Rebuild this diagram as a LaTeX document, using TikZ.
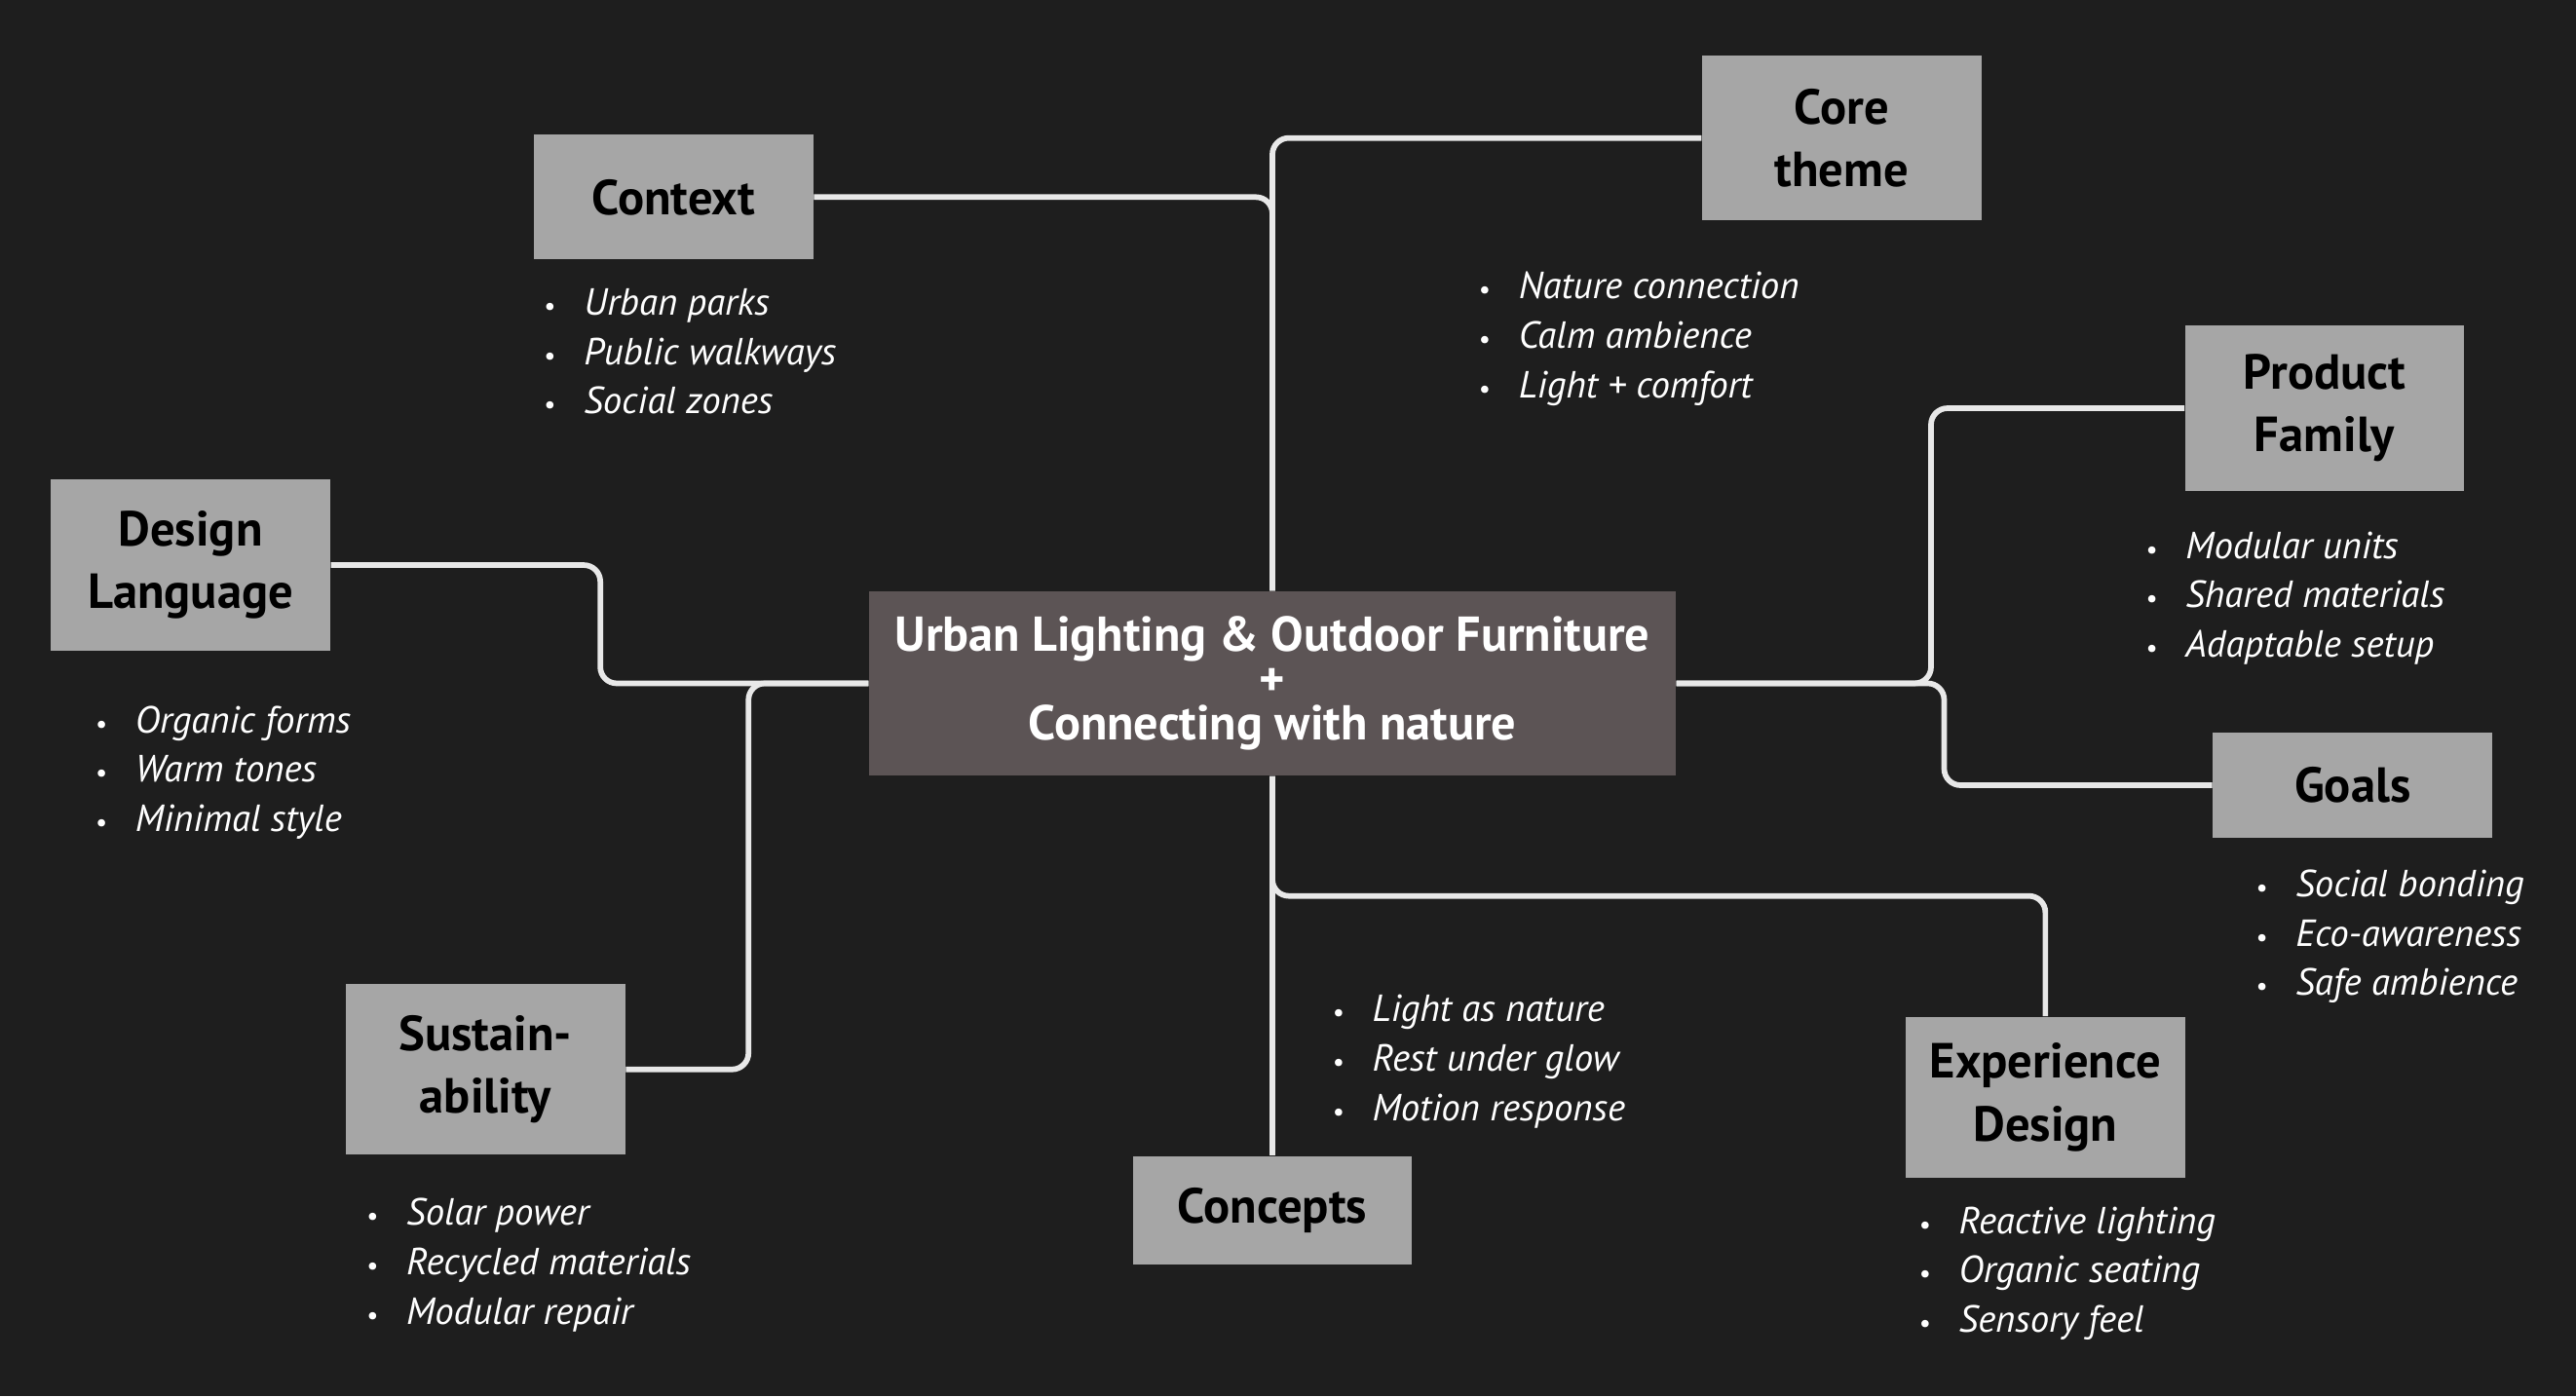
\documentclass[tikz,border=0pt]{standalone}
\usepackage{fontspec}
\setmainfont{PT Sans}
\definecolor{bgdark}{HTML}{1E1E1E}
\definecolor{boxgray}{HTML}{A6A6A6}
\definecolor{hubgray}{HTML}{5C5455}
\definecolor{linkgray}{HTML}{E8E8E8}
\tikzset{
	topic/.style={fill=boxgray, text=black, inner sep=0pt, align=center, minimum width=85pt,
		font=\bfseries\fontsize{15}{19}\selectfont},
	hub/.style={fill=hubgray, text=white, inner sep=0pt, align=center, minimum width=245.5pt, minimum height=56pt,
		font=\bfseries\fontsize{14.9}{13.5}\selectfont},
	note/.style={text=white, inner sep=0pt, anchor=base west, font=\itshape\fontsize{11.5}{15}\selectfont},
	link/.style={draw=linkgray, line width=1.7pt, rounded corners=5pt},
}
% three bullet points under a topic
\newcommand{\notelist}[4]{%
	\foreach \t [count=\i] in {#4}
		\node[note] (#1\i) at (#2, {#3+30*(\i-1)}) {\llap{\upshape\fontsize{8}{8}\selectfont\textbullet\hspace{8.5pt}}\t};
}
\begin{document}
\begin{tikzpicture}[x=0.5pt, y=-0.5pt]
	\fill[bgdark] (0,0) rectangle (1568,850);
	\useasboundingbox (0,0) rectangle (1568,850);

	\node[hub] (hub) at (774.5,416) {Urban Lighting \& Outdoor Furniture\\+\\Connecting with nature};

	\node[topic, minimum height=38pt]   (context)  at (410,120)  {Context};
	\node[topic, minimum height=50pt]   (core)     at (1121,84)  {Core\\theme};
	\node[topic, minimum height=50.5pt] (family)   at (1415,248.5) {Product\\Family};
	\node[topic, minimum height=32pt]   (goals)    at (1432,478) {Goals};
	\node[topic, minimum height=49pt]   (exper)    at (1245,668) {Experience\\Design};
	\node[topic, minimum height=33pt]   (concepts) at (774.5,737) {Concepts};
	\node[topic, minimum height=52pt]   (sustain)  at (295.5,651) {Sustain-\\ability};
	\node[topic, minimum height=52pt]   (design)   at (116,344)  {Design\\Language};

	\draw[link] (context.east) -| (hub.north);
	\draw[link] (hub.north) |- (core.west);
	\draw[link] (hub.east) -- ++(155,0) |- (family.west);
	\draw[link] (hub.east) -- ++(163,0) |- (goals.west);
	\draw[link] (hub.south) -- ++(0,73) -| (exper.north);
	\draw[link] (hub.south) -- (concepts.north);
	\draw[link] (design.east) -- ++(164,0) |- (hub.west);
	\draw[link] (hub.west) -- ++(-73,0) |- (sustain.east);

	\notelist{ctx}{355}{192}{Urban parks, Public walkways, Social zones}
	\notelist{thm}{924}{182}{Nature connection, Calm ambience, Light + comfort}
	\notelist{fam}{1330}{340}{Modular units, Shared materials, Adaptable setup}
	\notelist{gol}{1397}{546}{Social bonding, Eco-awareness, Safe ambience}
	\notelist{lng}{82}{446}{Organic forms, Warm tones, Minimal style}
	\notelist{cpt}{835}{622}{Light as nature, Rest under glow, Motion response}
	\notelist{exp}{1192}{751}{Reactive lighting, Organic seating, Sensory feel}
	\notelist{sus}{247}{746}{Solar power, Recycled materials, Modular repair}
\end{tikzpicture}
\end{document}
